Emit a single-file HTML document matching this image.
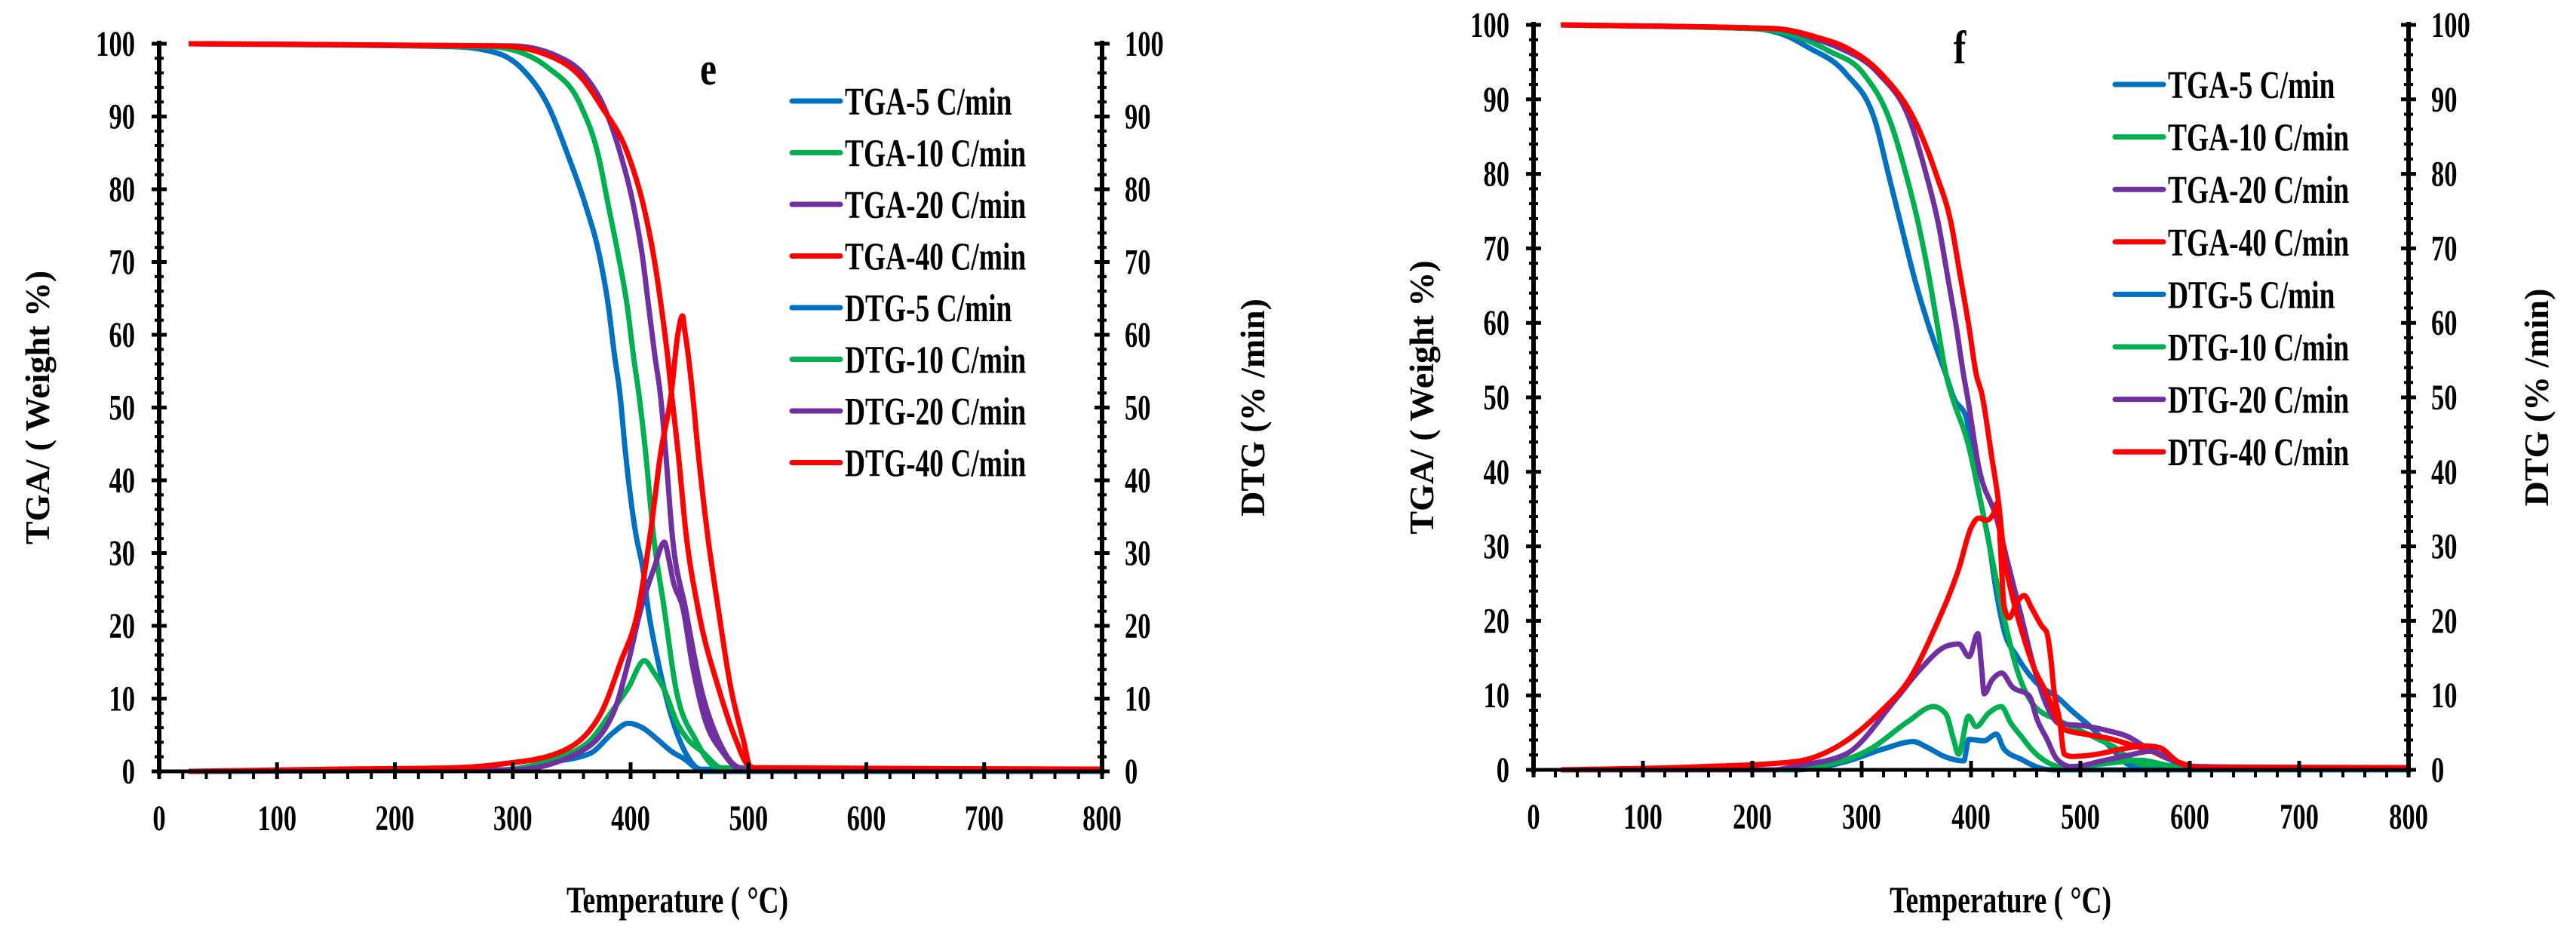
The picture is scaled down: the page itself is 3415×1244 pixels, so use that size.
<!DOCTYPE html>
<html><head><meta charset="utf-8"><style>
html,body{margin:0;padding:0;background:#fff;}
svg{display:block;}
text{font-family:"Liberation Serif",serif;font-weight:bold;fill:#000;}
</style></head><body>
<svg id="chart" width="3415" height="1244" viewBox="0 0 3415 1244" xmlns="http://www.w3.org/2000/svg"></svg>
<script>
const xTicks=[0,100,200,300,400,500,600,700,800];
const yTicks=[0,10,20,30,40,50,60,70,80,90,100];
const seriesNames=["TGA-5 C/min","TGA-10 C/min","TGA-20 C/min","TGA-40 C/min","DTG-5 C/min","DTG-10 C/min","DTG-20 C/min","DTG-40 C/min"];
const colors=["#0070C0","#00B050","#7030A0","#FF0000","#0070C0","#00B050","#7030A0","#FF0000"];
// panel e data [temperature, value]
const eTga5=[[25,100],[250,99.6],[287,98.7],[310,96.2],[330,91.5],[347,84.6],[362,77.7],[373.7,70.8],[381.2,63.9],[386.5,57],[390.8,52.1],[395.7,43.7],[404,33],[410.6,27.6],[415,22.2],[423.4,15],[434,7.9],[446.8,2.5],[459.6,0.3],[800,0]];
const eTga10=[[25,100],[280,99.6],[310,98.6],[330,96.7],[357.7,91.5],[372.7,84.6],[381.2,77.7],[389.7,70.8],[397.2,63.9],[402.5,57],[406.8,52.1],[412.8,43.7],[419,33],[428.7,22.2],[438.3,11.5],[455.3,4.3],[474.5,0.5],[800,0]];
const eTga20=[[25,100],[300,99.7],[336.4,98.4],[364,95],[376.9,91.5],[391.8,84.6],[402.5,77.7],[410,70.8],[415.3,63.9],[420.7,57],[425,52.1],[429.8,43.7],[435,33],[446.8,22.2],[459.6,11.5],[474.5,4.3],[493.6,0.5],[800,0]];
const eTga40=[[25,100],[290,99.7],[330,98.4],[360,95],[374.8,91.5],[398.2,84.6],[411,77.7],[419.6,70.8],[426,63.9],[431.4,57],[434.6,52.1],[440.4,43.7],[446.8,33],[457.4,22.2],[474.5,11.5],[489.4,4.3],[500,0.8],[510,0.3],[800,0.3]];
const eDtg5=[[25,0],[290,0.2],[330,1.2],[366,2.5],[385,5.3],[398,6.6],[410,6],[423.4,4.3],[435,2.7],[444.7,1.8],[461.7,0],[800,0]];
const eDtg10=[[25,0],[290,0.2],[330,1.5],[366,4.3],[383,8],[398,11.5],[411.7,15.2],[420,13.5],[427.7,11.5],[440,6.5],[449,4.3],[460,2.8],[478.7,0.4],[800,0.3]];
const eDtg20=[[25,0],[300,0.2],[355,2.5],[385,7.9],[398,15],[408.5,22.2],[420,28],[428.7,31.5],[432,29.5],[436,26.2],[444.7,22.2],[452,15],[461.7,7.9],[478.7,2.5],[493.6,0.3],[800,0.3]];
const eDtg40=[[25,0],[150,0.3],[250,0.5],[290,1],[338,2.5],[374.5,7.9],[391.5,15],[406.4,22.2],[417,33],[425.5,43.7],[434.6,52.1],[440,60],[444,62.6],[446,60.5],[447.4,59],[452.5,52],[457.4,43.7],[464.9,33],[474.5,22.2],[485,11.5],[495.7,4.3],[502,0.5],[800,0.3]];
// panel f data
const fTga5=[[25,100],[200,99.5],[230,98.6],[250.8,97],[285.3,93.5],[312.9,86.8],[324.4,80],[335.9,73.2],[347.5,66.4],[361.3,59.6],[377.4,52.9],[384.3,49.9],[395.6,47.3],[402.5,40.6],[409.5,35.5],[416.4,30.5],[423.3,23.7],[430.2,18.7],[441.7,15.3],[457.8,12],[480.8,9.5],[492.3,7.9],[508.4,5.9],[529,2.8],[543,0.8],[560,0.3],[800,0]];
const fTga10=[[25,100],[200,99.5],[240,98.5],[270,96.5],[301.4,93.5],[326.7,86.8],[340.5,80],[352,73.2],[361.3,66.4],[369.3,59.6],[377.4,52.9],[383.1,49.9],[396.9,44],[409.5,35.5],[418.6,28.8],[430.2,20.4],[441.7,13.6],[457.8,8.6],[480.8,6.6],[515.2,4.2],[533.6,2.8],[542,1.8],[570,0.3],[800,0]];
const fTga20=[[25,100],[220,99.5],[260,98],[278,97],[315.2,93.5],[345.1,86.8],[358.9,80],[370.3,73.2],[378.4,66.4],[386.4,59.6],[393.3,52.9],[396.8,50],[407.1,40.6],[423.3,33.8],[434.8,27.1],[446.3,20.4],[457.8,13.6],[469.3,8.6],[480.8,6.2],[503.8,5.9],[526.7,5.2],[542.8,4.5],[560,3],[580,1.5],[600,0.5],[800,0]];
const fTga40=[[25,100],[220,99.5],[260,98.3],[285,97],[317.5,93.5],[349.7,86.8],[368,80],[382,73.2],[390,66.4],[398,59.6],[405,52.9],[409.5,50.7],[418.6,42.3],[425.5,35.5],[430.2,28.8],[437.1,23.7],[446.3,18.7],[457.8,13.6],[469.3,10.2],[478.5,6.8],[485.4,5.4],[503.8,4.8],[526.7,4.2],[542.8,3.5],[565,2.5],[590,1],[610,0.3],[800,0.3]];
const fDtg5=[[25,0],[240,0],[285.3,1.1],[319.8,2.8],[347.4,3.8],[358.9,3.1],[377.2,1.7],[393.3,1.2],[397.9,4.1],[411.7,3.9],[423.2,4.8],[430.1,2.8],[446.2,1.4],[460,0.4],[473.8,0],[800,0]];
const fDtg10=[[25,0],[230,0],[262,0.5],[308,2.8],[342.5,6.5],[365.5,8.5],[377,7.5],[384,4.1],[388.5,2.1],[397.7,7.2],[404.6,5.8],[416,7.6],[427.5,8.5],[436.7,6.2],[445.9,4.5],[455,2.8],[468.8,1.1],[482.7,0.4],[520,0.8],[555,1.3],[580,0.6],[610,0.3],[800,0.3]];
const fDtg20=[[25,0],[220,0],[239.3,0.5],[285.3,2.1],[331.3,9.5],[354.3,13.6],[377.4,16.6],[388.9,16.9],[398.2,15.2],[406.2,18.3],[409.7,13.6],[412,10.2],[418.9,12],[428.1,13],[437.3,11.2],[453.4,9.9],[460.3,6.8],[469.5,4.1],[478.7,1.4],[492.5,0.4],[520,1.2],[545,2],[565,2.5],[585,1.2],[605,0.4],[800,0.3]];
const fDtg40=[[25,0],[150,0.4],[239,1.1],[285,3.8],[320,8.2],[343,12],[366,18.7],[389,27.1],[400,32.5],[407,33.8],[414,33.5],[421,34.5],[424.4,35.9],[426.7,30.5],[430.2,22],[434.8,20.4],[441.7,22.4],[448.6,23.4],[455.5,21.7],[464.7,19.3],[469.3,18.4],[472.7,15.3],[476.2,10.2],[480.8,6.8],[485.4,2.1],[492.3,1.8],[515,2.1],[538,2.8],[560,3.2],[572,3],[590,1],[610,0.3],[800,0.3]];

const NS="http://www.w3.org/2000/svg";
const svg=document.getElementById('chart');
function mk(tag,attrs,parent){const e=document.createElementNS(NS,tag);for(const k in attrs)e.setAttribute(k,attrs[k]);(parent||svg).appendChild(e);return e;}
// monotone-x cubic (no overshoot)
function monoPath(P){
 const n=P.length,s=[],t=[];
 for(let i=0;i<n-1;i++){const h=P[i+1][0]-P[i][0];s.push(h?(P[i+1][1]-P[i][1])/h:0);}
 for(let i=0;i<n;i++){
  if(i===0)t.push(s[0]);else if(i===n-1)t.push(s[n-2]);
  else{const s0=s[i-1],s1=s[i];
   if(s0*s1<=0)t.push(0);
   else{const h0=P[i][0]-P[i-1][0],h1=P[i+1][0]-P[i][0];
    const p=(s0*h1+s1*h0)/(h0+h1);
    t.push((Math.sign(s0)+Math.sign(s1))*Math.min(Math.abs(s0),Math.abs(s1),0.5*Math.abs(p)));}}
 }
 let d='M'+P[0][0].toFixed(1)+','+P[0][1].toFixed(1);
 for(let i=0;i<n-1;i++){const h=(P[i+1][0]-P[i][0])/3;
  d+='C'+(P[i][0]+h).toFixed(1)+','+(P[i][1]+t[i]*h).toFixed(1)+' '+(P[i+1][0]-h).toFixed(1)+','+(P[i+1][1]-t[i+1]*h).toFixed(1)+' '+P[i+1][0].toFixed(1)+','+P[i+1][1].toFixed(1);}
 return d;
}

const panels=[
 {id:'e',x0:211,x1:1461,y0:1023,y1:58,series:[eTga5,eTga10,eTga20,eTga40,eDtg5,eDtg10,eDtg20,eDtg40],letter:[939,112],legX:1050,legY:134,legDy:68.5,yTitleL:49,yTitleR:1660,xTitle:898},
 {id:'f',x0:2033,x1:3193,y0:1021,y1:33,series:[fTga5,fTga10,fTga20,fTga40,fDtg5,fDtg10,fDtg20,fDtg40],letter:[2598,84],legX:2804,legY:112,legDy:69.6,yTitleL:1884,yTitleR:3362,xTitle:2652}
];
panels.forEach(p=>{
 const g=mk('g',{});
 
 
 const sx=v=>p.x0+(v/800)*(p.x1-p.x0);
 const sy=v=>p.y0-(v/100)*(p.y0-p.y1);
 p.series.forEach((s,i)=>{
  const d=monoPath(s.map(pt=>[sx(pt[0]),sy(pt[1])]));
  const path=mk('path',{d:d,fill:'none',stroke:colors[i],'stroke-width':7,'stroke-linejoin':'round'},g);
  
  
 });
 const ax=mk('g',{stroke:'#000'},g);
 
 
 mk('line',{x1:p.x0,y1:p.y0,x2:p.x1,y2:p.y0,'stroke-width':5},ax);
 mk('line',{x1:p.x0,y1:p.y1-4,x2:p.x0,y2:p.y0+4,'stroke-width':6},ax);
 mk('line',{x1:p.x1,y1:p.y1-4,x2:p.x1,y2:p.y0+4,'stroke-width':6},ax);
 for(let v=0;v<=800;v+=20){const X=sx(v);const maj=v%100===0;mk('line',{x1:X,y1:maj?p.y0-12:p.y0,x2:X,y2:p.y0+10,'stroke-width':maj?5:4},ax);}
 for(let v=0;v<=100;v+=2){const Y=sy(v);const maj=v%10===0;const L=maj?10:6;
  mk('line',{x1:p.x0-L,y1:Y,x2:p.x0+L,y2:Y,'stroke-width':maj?5:4},ax);
  mk('line',{x1:p.x1-L,y1:Y,x2:p.x1+L,y2:Y,'stroke-width':maj?5:4},ax);}
 xTicks.forEach(v=>{const t=mk('text',{x:0,y:0,'font-size':48,'text-anchor':'middle',transform:`translate(${sx(v)},${p.y0+78}) scale(0.72,1)`},g);t.textContent=v;
  
  });
 yTicks.forEach(v=>{
  const t=mk('text',{x:0,y:0,'font-size':48,'text-anchor':'end',transform:`translate(${p.x0-32},${sy(v)+16}) scale(0.72,1)`},g);t.textContent=v;
  
  
  const r=mk('text',{x:0,y:0,'font-size':48,'text-anchor':'start',transform:`translate(${p.x1+30},${sy(v)+16}) scale(0.72,1)`},g);r.textContent=v;
  
  
 });
 const yc=(p.y0+p.y1)/2;
 const tl=mk('text',{x:0,y:0,'font-size':46,'text-anchor':'middle',transform:`translate(${p.yTitleL+16},${yc}) rotate(-90)`},g);tl.textContent='TGA/ ( Weight %)';
 
 
 const tr=mk('text',{x:0,y:0,'font-size':46,'text-anchor':'middle',transform:`translate(${p.yTitleR+16},${yc}) rotate(-90)`},g);tr.textContent='DTG (% /min)';
 
 
 const xt=mk('text',{x:0,y:0,'font-size':50,'text-anchor':'middle',transform:`translate(${p.xTitle},${1210}) scale(0.75,1)`},g);xt.textContent='Temperature ( °C)';
 
 
 const lt=mk('text',{x:0,y:0,'font-size':62,'text-anchor':'middle',transform:`translate(${p.letter[0]},${p.letter[1]}) scale(0.8,1)`},g);lt.textContent=p.id;
 
 
 const lg=mk('g',{},g);
 
 
 seriesNames.forEach((n,i)=>{
  const Y=p.legY+i*p.legDy;
  const e=mk('g',{},lg);
  
  
  mk('line',{x1:p.legX,y1:Y,x2:p.legX+64,y2:Y,stroke:colors[i],'stroke-width':7,'stroke-linecap':'round'},e);
  const t=mk('text',{x:0,y:0,'font-size':52,transform:`translate(${p.legX+70},${Y+18}) scale(0.72,1)`},e);t.textContent=n;
 });
});
</script>
</body></html>
